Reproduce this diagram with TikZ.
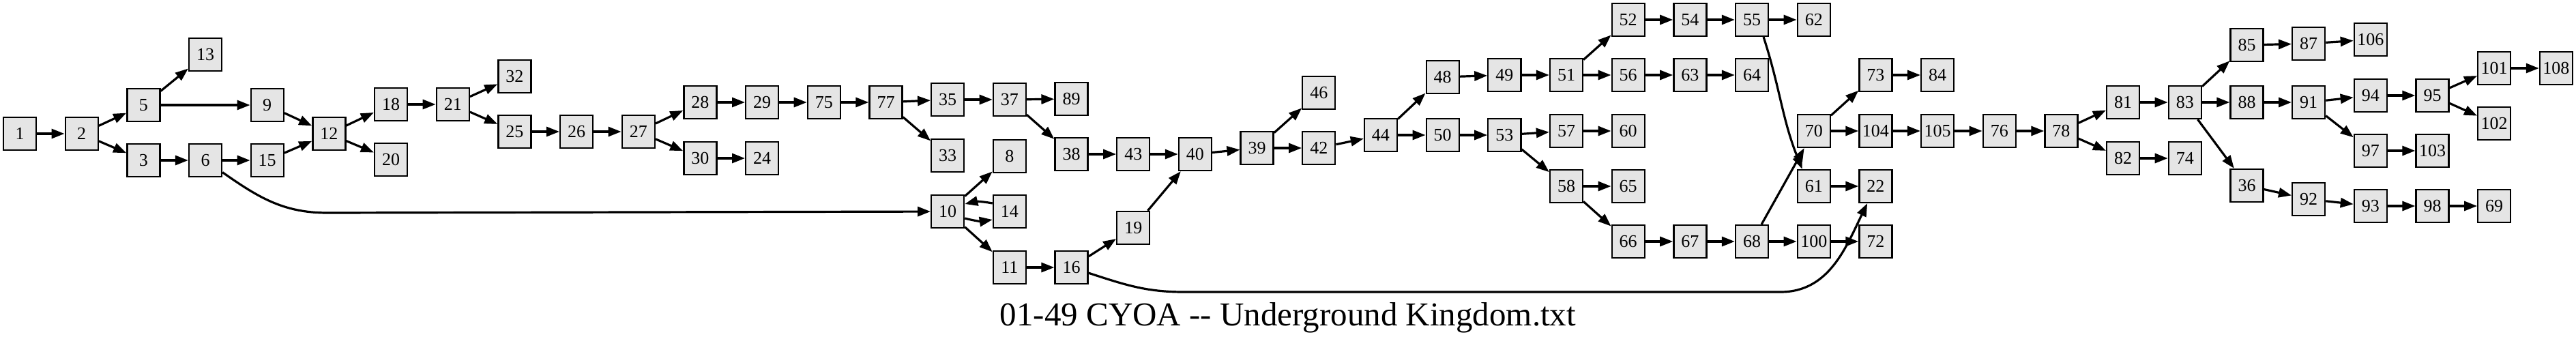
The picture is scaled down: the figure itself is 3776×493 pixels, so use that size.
\documentclass[tikz,border=0pt]{standalone}
\usepackage{fontspec}
\setmainfont{Liberation Serif}
\usetikzlibrary{
  arrows.meta,
}

\tikzset{
  page/.style={
    draw=black,
    fill=black!10,
    line width=2.3pt,
    minimum width=48pt,
    minimum height=48pt,
    inner sep=0pt,
    font=\fontsize{26}{26}\selectfont,
  },
  link/.style={
    line width=3.2pt,
    -{Triangle[length=19pt,width=14pt]},
  },
}

\begin{document}
\begin{tikzpicture}[x=1pt,y=-1pt]
\useasboundingbox (0,0) rectangle (3776,493);

% pages: name / column / row height
\foreach \n/\c/\y in {
  1/0/196, 2/1/196, 5/2/154, 3/2/235, 13/3/80, 6/3/235, 9/4/154, 15/4/235,
  12/5/196, 18/6/153, 20/6/234, 21/7/153, 32/8/112, 25/8/193, 26/9/193,
  27/10/193, 28/11/150, 30/11/232, 29/12/150, 24/12/232, 75/13/150,
  77/14/150, 35/15/146, 33/15/228, 10/15/310, 37/16/146, 8/16/229,
  14/16/310, 11/16/392, 89/17/145, 38/17/226, 16/17/392, 43/18/226,
  19/18/334, 40/19/226, 39/20/217, 46/21/136, 42/21/217, 44/22/198,
  48/23/113, 50/23/198, 49/24/110, 53/24/198, 51/25/110, 57/25/192,
  58/25/273, 52/26/29, 56/26/110, 60/26/192, 65/26/273, 66/26/354,
  54/27/29, 63/27/110, 67/27/354, 55/28/29, 64/28/110, 68/28/354,
  62/29/29, 70/29/192, 61/29/273, 100/29/354, 73/30/110, 104/30/192,
  22/30/273, 72/30/354, 84/31/110, 105/31/192, 76/32/192, 78/33/192,
  81/34/150, 82/34/232, 83/35/150, 74/35/232, 85/36/66, 88/36/150,
  36/36/272, 87/37/64, 91/37/150, 92/37/292, 106/38/58, 94/38/140,
  97/38/221, 93/38/302, 95/39/140, 103/39/221, 98/39/302, 101/40/100,
  102/40/181, 69/40/302, 108/41/100} {
  \node[page] (p\n) at ({29+90.68*\c},\y) {\n};
}

\foreach \a/\b in {
  1/2, 2/5, 2/3, 5/13, 5/9, 3/6, 6/15, 9/12, 15/12, 12/18, 12/20, 18/21,
  21/32, 21/25, 25/26, 26/27, 27/28, 27/30, 28/29, 30/24, 29/75, 75/77,
  77/35, 77/33, 35/37, 37/89, 37/38, 38/43, 43/40, 40/39, 10/8, 10/11,
  11/16, 16/19, 19/40, 39/46, 39/42, 42/44, 44/48, 44/50, 48/49, 49/51,
  51/52, 51/56, 50/53, 53/57, 53/58, 57/60, 58/65, 58/66, 52/54, 54/55,
  55/62, 56/63, 63/64, 66/67, 67/68, 68/70, 68/100, 100/72, 61/22, 70/73,
  70/104, 73/84, 104/105, 105/76, 76/78, 78/81, 78/82, 81/83, 82/74,
  83/85, 83/88, 83/36, 85/87, 87/106, 88/91, 91/94, 91/97, 94/95, 95/101,
  95/102, 97/103, 101/108, 36/92, 92/93, 93/98, 98/69} {
  \draw[link] (p\a) -- (p\b);
}

% the long ones
\coordinate (k6) at (480,312);
\coordinate (k16a) at (1735,428);
\coordinate (k16b) at (2610,428);
\draw[link] (p6) to[out=-35,in=180] (k6) -- (p10);
\draw[link] (p16) to[out=-18,in=180] (k16a) -- (k16b) to[out=0,in=-116] (p22);
\draw[link] (p55.-56) to[out=-72,in=112] (p61.124);
\draw[link] ([yshift=12pt]p14.west) to[bend right=12] ([yshift=11pt]p10.east);
\draw[link] ([yshift=-10pt]p10.east) to[bend right=12] ([yshift=-12pt]p14.west);

\node[anchor=base,font=\fontsize{49}{49}\selectfont] (title) at (1888,477)
  {01-49 CYOA -{}- Underground Kingdom.txt};
\end{tikzpicture}
\end{document}
